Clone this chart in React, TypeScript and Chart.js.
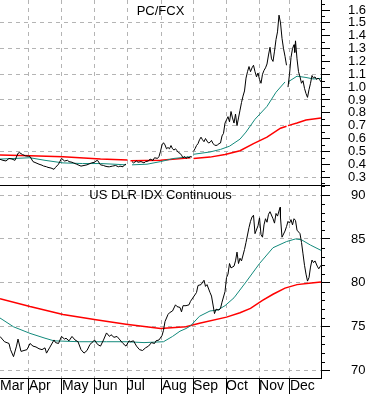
import React, { useEffect, useRef } from 'react';
import { Chart, registerables } from 'chart.js';

Chart.register(...registerables);

// ---- x axis: trading-day index, month starts ----
const monthLabels = ['Mar', 'Apr', 'May', 'Jun', 'Jul', 'Aug', 'Sep', 'Oct', 'Nov', 'Dec'];
const monthStartDays = [0, 19.3, 41.3, 63.3, 84.7, 108, 128.7, 150.7, 172.7, 193.3];
const dayMin = 0;
const dayMax = 214;

// ---- top panel: PC/FCX ratio ----
const pcDays = [
  0, 2, 4, 6, 8, 10, 12, 13, 15, 17, 19, 20, 22, 24, 26, 28, 29, 31, 32, 34, 36, 37, 39, 41, 43, 45, 46, 48, 49, 51,
  52, 54, 56, 58, 60, 61, 63, 64, 65, 67, 69, 70, 72, 73, 75, 77, 79, 80, 82, 83, 84, 86,
  88, 89, 91, 92, 94, 96, 97, 99, 100, 102, 103, 105, 106, 107, 108, 109, 110, 111, 112, 113, 114, 115, 116, 117,
  118, 119, 120, 121, 122, 123, 124, 125, 126, 127, 128, 128.5,
  129, 130, 131, 132, 133, 134, 135, 136, 137, 138, 139, 140, 141, 142, 143, 144, 145, 146, 147, 148, 149, 150,
  151, 152, 153, 154, 155, 156, 157, 158, 159, 160, 161, 162, 163, 164, 165, 166, 167, 168, 169, 170, 171, 172,
  173, 174, 175, 176, 177, 178, 179, 180, 181, 182, 183, 184, 185, 186, 187, 188, 189, 190, 191, 191.5,
  192, 193, 194, 195, 196, 196.5, 197, 198, 199, 200, 201, 202, 203, 204, 205, 206, 207, 208, 209, 210, 211, 212, 213, 214,
];
const pcValues = [
  0.438, 0.43, 0.425, 0.445, 0.44, 0.43, 0.485, 0.49, 0.475, 0.465, 0.462, 0.46, 0.42, 0.41, 0.4, 0.392, 0.386, 0.38, 0.375, 0.37,
  0.36, 0.375, 0.4, 0.445, 0.425, 0.43, 0.42, 0.415, 0.41, 0.4, 0.395, 0.385, 0.39, 0.395, 0.405, 0.41, 0.415, 0.425, 0.43, 0.395,
  0.39, 0.385, 0.38, 0.38, 0.385, 0.39, 0.38, 0.385, 0.38, 0.395, 0.4, null,
  0.42, 0.41, 0.425, 0.415, 0.42, 0.41, 0.42, 0.425, 0.44, 0.43, 0.45, 0.445, 0.46, 0.5, 0.55, 0.567, 0.55, 0.52, 0.53, 0.52,
  0.545, 0.52, 0.51, 0.52, 0.505, 0.49, 0.485, 0.47, 0.45, 0.46, 0.445, 0.455, 0.45, 0.46, 0.455, null,
  0.5, 0.52, 0.545, 0.56, 0.59, 0.61, 0.59, 0.575, 0.6, 0.58, 0.565, 0.57, 0.585, 0.56, 0.55, 0.545, 0.55, 0.56, 0.565, 0.62,
  0.64, 0.72, 0.745, 0.77, 0.73, 0.81, 0.76, 0.72, 0.79, 0.7, 0.76, 0.82, 0.88, 0.93, 0.97, 1.07, 1.12, 1.16, 1.12, 1.15,
  1.17, 1.12, 1.08, 1.11, 1.06, 1.03, 1.1, 1.13, 1.15, 1.18, 1.25, 1.31, 1.22, 1.2, 1.28, 1.37, 1.43, 1.56, 1.5, 1.38,
  1.3, 1.24, 1.17, null,
  1.0, 1.1, 1.23, 1.3, 1.33, 1.27, 1.36, 1.22, 1.12, 1.08, 1.03, 1.05, 0.99, 0.95, 0.92, 0.98, 1.03, 1.09, 1.07, 1.08,
  1.06, 1.07, 1.06, 1.04,
];
const pcMa50Days = [0, 10, 20, 30, 42, 55, 67, 76, 84, 86, 88, 98, 107, 116, 127, 128.5, 129, 140, 147, 153, 160, 164, 170, 178, 184, 190, 191.5, 192, 198, 204, 209, 214];
const pcMa50Values = [0.44, 0.445, 0.45, 0.43, 0.41, 0.405, 0.405, 0.4, 0.395, null, 0.395, 0.4, 0.42, 0.445, 0.458, null, 0.477, 0.495, 0.515, 0.54, 0.595, 0.65, 0.75, 0.85, 0.96, 1.04, null, 1.04, 1.085, 1.075, 1.063, 1.068];
const pcMa200Days = [0, 20, 42, 67, 85, 86, 87, 107, 127, 128.5, 129, 140, 150, 160, 169, 178, 187, 191, 191.5, 192, 198, 204, 209, 214];
const pcMa200Values = [0.472, 0.465, 0.458, 0.44, 0.433, null, 0.427, 0.43, 0.45, null, 0.445, 0.455, 0.475, 0.505, 0.56, 0.61, 0.68, 0.695, null, 0.7, 0.72, 0.744, 0.752, 0.76];

// ---- bottom panel: US Dollar Index ----
const usdDays = [
  0, 2, 3, 6, 7, 9, 11, 12, 14, 16, 18, 20, 22, 24, 26, 28, 30, 31, 33, 36, 37, 39, 41, 43, 44, 46, 48, 50, 52, 54,
  56, 58, 60, 62, 63, 65, 67, 69, 71, 73, 74, 76, 78, 80, 82, 84, 86, 87, 89, 91, 93, 95, 97, 99, 101, 103, 104, 106,
  108, 109, 110, 112, 113, 115, 117, 118, 120, 121, 122, 124, 126, 127, 129, 131, 132, 134, 136, 137, 138, 140, 141,
  143, 144, 146, 147, 148, 150, 151, 152, 153, 154, 156, 157, 158, 159, 160, 161, 163, 164, 166, 167, 168, 169, 170,
  172, 173, 174, 175, 176, 177, 178, 179, 180, 182, 183, 184, 185, 186.7, 187, 188, 190, 191, 192, 193, 194, 195, 196,
  197, 198, 200, 201, 202, 203, 204, 205, 206, 207, 208, 209, 210, 211.5, 212.5, 214,
];
const usdValues = [
  73.9, 73.5, 73.3, 73.1, 72.4, 71.6, 72.8, 73.6, 72.2, 72.3, 72.4, 73.1, 72.8, 72.7, 72.5, 72.4, 72.6, 72.0, 72.6, 73.5,
  73.2, 73.1, 73.9, 73.6, 73.7, 73.4, 73.9, 73.5, 73.3, 72.4, 72.0, 72.3, 73.0, 73.3, 73.5, 73.0, 72.8, 73.5, 74.3, 73.9,
  74.1, 73.8, 73.9, 73.5, 73.1, 72.8, 73.4, 73.3, 73.4, 72.8, 72.4, 72.3, 72.6, 72.8, 73.2, 73.1, 73.4, 73.5,
  74.0, 74.6, 75.6, 76.4, 76.6, 76.8, 77.5, 77.3, 77.2, 76.7, 77.4, 77.4, 77.5, 77.9, 78.4, 78.9, 79.7, 79.8, 80.3, 79.6,
  79.8, 78.9, 78.5, 76.5, 77.0, 76.9, 77.1, 77.8, 79.0, 80.6, 81.0, 82.2, 81.7, 81.9, 82.5, 83.5, 82.2, 82.8, 82.5, 83.8,
  84.6, 86.3, 87.0, 87.5, 87.7, 85.6, 86.5, 87.4, 85.5, 85.2, 86.6, 87.3, 86.9, 87.8, 88.1, 87.3, 86.8, 87.9, 87.6, 88.6,
  87.4, 85.2, 85.9, 86.4, 87.0, 86.8, 87.2, 86.6, 87.3, 87.1, 86.0, 85.6, 84.6, 83.3, 82.0, 81.0, 80.2, 80.6, 81.8, 82.6,
  82.3, 82.5, 81.9, 81.6, 82.0,
];
const usdMa50Days = [0, 9, 20, 30, 36, 53, 71, 84, 96, 109, 115, 120, 124, 127, 133, 140, 145, 150, 156, 164, 173, 182, 191, 197, 201, 207, 214];
const usdMa50Values = [76.0, 75.0, 74.25, 73.7, 73.4, 73.3, 73.3, 73.3, 73.2, 73.3, 73.9, 74.5, 74.8, 75.1, 76.2, 76.8, 76.9, 77.4, 78.3, 80.1, 82.2, 84.0, 84.7, 85.0, 84.9, 84.3, 83.7];
const usdMa200Days = [0, 20, 42, 64, 84, 107, 124, 133, 151, 160, 167, 175, 182, 190, 198, 206, 214];
const usdMa200Values = [78.2, 77.3, 76.4, 75.8, 75.3, 74.8, 75.0, 75.4, 76.1, 76.6, 77.1, 78.0, 78.7, 79.4, 79.8, 79.95, 80.1];

// ---- axes ticks ----
const topTickValues = [0.3, 0.4, 0.5, 0.6, 0.7, 0.8, 0.9, 1.0, 1.1, 1.2, 1.3, 1.4, 1.5, 1.6];
const topGridValues = [0.3, 0.5, 0.7, 0.9, 1.1, 1.3, 1.5];
const topMinorValues = [0.25, 0.35, 0.45, 0.55, 0.65, 0.75, 0.85, 0.95, 1.05, 1.15, 1.25, 1.35, 1.45, 1.55, 1.65];
const topMin = 0.238;
const topMax = 1.678;
const bottomTickValues = [70, 75, 80, 85, 90];
const bottomMinorValues = [71, 72, 73, 74, 76, 77, 78, 79, 81, 82, 83, 84, 86, 87, 88, 89, 91];
const bottomMin = 69.17;
const bottomMax = 91.14;

const topTitle = 'PC/FCX';
const bottomTitle = 'US DLR IDX Continuous';

const FONT_FAMILY = "Arial, 'Liberation Sans', sans-serif";
const GRID_GRAY = '#b4b4b4';
const BLACK = '#000000';
const TEAL = '#138a7c';
const RED = '#ff0000';

const pts = (days: number[], vals: (number | null)[]) => days.map((d, i) => ({ x: d, y: vals[i] }));
const near = (list: number[], v: number) => list.some((t) => Math.abs(t - v) < 1e-6);
const zeroPadding = (s: any) => {
  s.paddingTop = 0;
  s.paddingBottom = 0;
  s.paddingLeft = 0;
  s.paddingRight = 0;
};

const decorPlugin = {
  id: 'decor',
  afterDraw(chart: any) {
    const ctx = chart.ctx;
    const top = chart.scales.yTop;
    const bot = chart.scales.yBottom;
    const area = chart.chartArea;
    ctx.save();
    ctx.strokeStyle = BLACK;
    ctx.lineWidth = 1;
    ctx.beginPath();
    const minor = (scale: any, values: number[]) => {
      values.forEach((v) => {
        const y = Math.round(scale.getPixelForValue(v)) + 0.5;
        if (y < scale.top || y > scale.bottom) return;
        ctx.moveTo(scale.left, y);
        ctx.lineTo(scale.left + 4, y);
      });
    };
    minor(top, topMinorValues);
    minor(bot, bottomMinorValues);
    ctx.stroke();
    const sy = Math.round(top.bottom) + 0.5;
    ctx.beginPath();
    ctx.moveTo(0, sy);
    ctx.lineTo(area.right + 9, sy);
    ctx.stroke();
    ctx.fillStyle = BLACK;
    ctx.font = `13px ${FONT_FAMILY}`;
    ctx.textAlign = 'center';
    ctx.textBaseline = 'middle';
    const cx = (area.left + area.right) / 2;
    ctx.fillText(topTitle, cx, top.top + 11);
    ctx.fillText(bottomTitle, cx, bot.top + 10);
    ctx.restore();
  },
};

export default function App() {
  const canvasRef = useRef<HTMLCanvasElement | null>(null);

  useEffect(() => {
    if (!canvasRef.current) return;
    const lineDs = (label: string, data: any[], color: string, width: number, yAxisID: string) => ({
      label,
      data,
      borderColor: color,
      backgroundColor: color,
      borderWidth: width,
      pointRadius: 0,
      tension: 0,
      spanGaps: false,
      fill: false,
      yAxisID,
      xAxisID: 'x',
    });
    const chart = new Chart(canvasRef.current, {
      type: 'line',
      data: {
        datasets: [
          lineDs('PC/FCX', pts(pcDays, pcValues), BLACK, 1, 'yTop'),
          lineDs('USD', pts(usdDays, usdValues), BLACK, 1, 'yBottom'),
          lineDs('PC/FCX 50', pts(pcMa50Days, pcMa50Values), TEAL, 1, 'yTop'),
          lineDs('USD 50', pts(usdMa50Days, usdMa50Values), TEAL, 1, 'yBottom'),
          lineDs('PC/FCX 200', pts(pcMa200Days, pcMa200Values), RED, 1.5, 'yTop'),
          lineDs('USD 200', pts(usdMa200Days, usdMa200Values), RED, 1.5, 'yBottom'),
        ],
      },
      options: {
        animation: false,
        responsive: false,
        maintainAspectRatio: false,
        layout: { padding: 0 },
        events: [],
        plugins: {
          legend: { display: false },
          tooltip: { enabled: false },
          title: { display: false },
        },
        scales: {
          x: {
            type: 'linear',
            position: 'bottom',
            min: dayMin,
            max: dayMax,
            afterBuildTicks: (s: any) => {
              s.ticks = monthStartDays.map((v) => ({ value: v }));
            },
            afterFit: (s: any) => {
              s.height = 16;
              zeroPadding(s);
            },
            ticks: {
              autoSkip: false,
              maxRotation: 0,
              align: 'start',
              padding: -16,
              color: BLACK,
              font: { family: FONT_FAMILY, size: 14 },
              callback: (_v: any, i: number) => monthLabels[i],
            },
            grid: {
              color: (c: any) => (c.index === 0 ? 'rgba(0,0,0,0)' : GRID_GRAY),
              tickColor: (c: any) => (c.index === 0 ? 'rgba(0,0,0,0)' : BLACK),
              tickLength: 16,
              tickBorderDash: [],
              lineWidth: 1,
            },
            border: { display: true, color: BLACK, width: 1, dash: [4, 4] },
          },
          yTop: {
            type: 'linear',
            position: 'right',
            stack: 'panels',
            stackWeight: 185,
            min: topMin,
            max: topMax,
            afterBuildTicks: (s: any) => {
              s.ticks = topTickValues.map((v) => ({ value: v }));
            },
            afterFit: (s: any) => {
              s.width = 49;
              zeroPadding(s);
            },
            ticks: {
              autoSkip: false,
              padding: 18,
              color: BLACK,
              font: { family: FONT_FAMILY, size: 13 },
              callback: (v: any) => Number(v).toFixed(1),
            },
            grid: {
              color: (c: any) => (c.tick && near(topGridValues, c.tick.value) ? GRID_GRAY : 'rgba(0,0,0,0)'),
              tickColor: BLACK,
              tickLength: 9,
              tickBorderDash: [],
            },
            border: { display: true, color: BLACK, width: 1, dash: [4, 4] },
          },
          yBottom: {
            type: 'linear',
            position: 'right',
            stack: 'panels',
            stackWeight: 193,
            min: bottomMin,
            max: bottomMax,
            afterBuildTicks: (s: any) => {
              s.ticks = bottomTickValues.map((v) => ({ value: v }));
            },
            afterFit: (s: any) => {
              s.width = 49;
              zeroPadding(s);
            },
            ticks: {
              autoSkip: false,
              padding: 21,
              color: BLACK,
              font: { family: FONT_FAMILY, size: 13 },
              callback: (v: any) => String(v),
            },
            grid: {
              color: GRID_GRAY,
              tickColor: BLACK,
              tickLength: 9,
              tickBorderDash: [],
            },
            border: { display: true, color: BLACK, width: 1, dash: [4, 4] },
          },
        },
      } as any,
      plugins: [decorPlugin],
    });
    return () => chart.destroy();
  }, []);

  return (
    <div style={{ position: 'fixed', left: 0, top: 0, width: 370, height: 394, background: '#fff' }}>
      <canvas ref={canvasRef} width={370} height={394} style={{ display: 'block', width: 370, height: 394 }} />
    </div>
  );
}
